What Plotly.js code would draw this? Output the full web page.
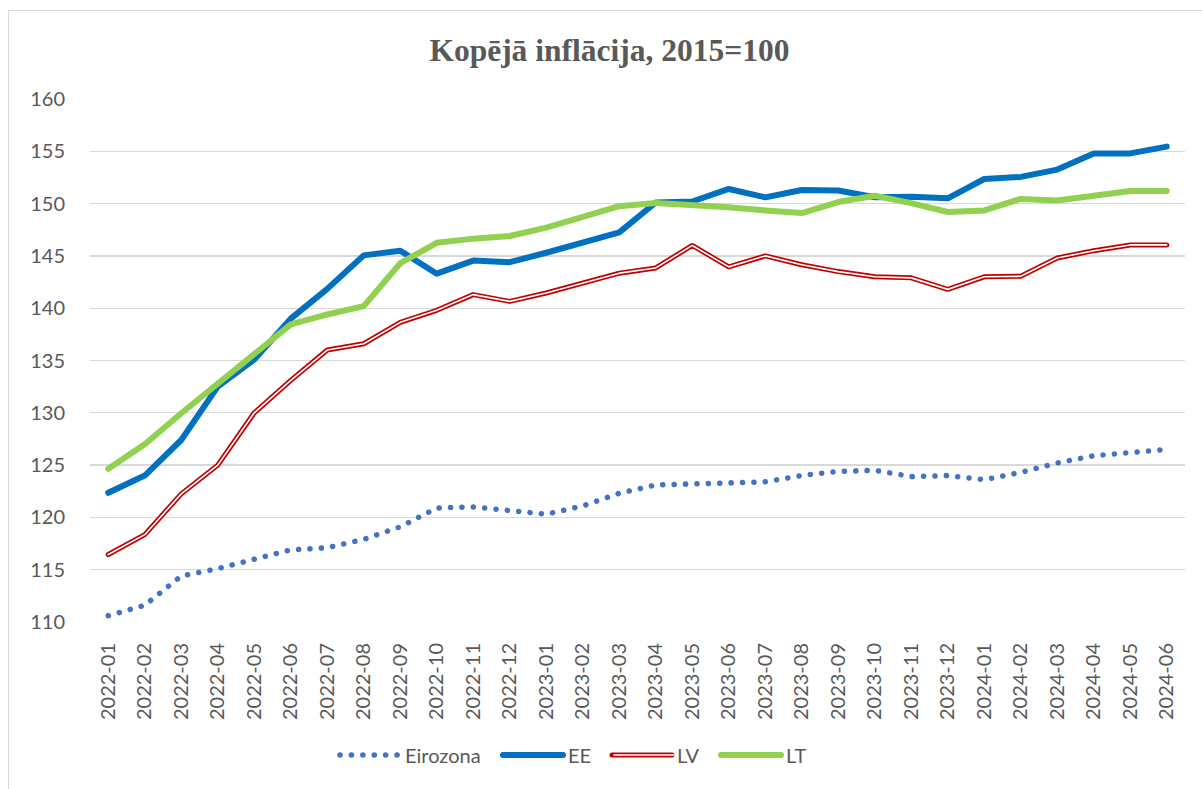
<!DOCTYPE html>
<html>
<head>
<meta charset="utf-8">
<script src="https://cdn.plot.ly/plotly-3.0.1.min.js"></script>
<style>
  html, body { margin: 0; padding: 0; background: #fff; }
  #wrap { position: absolute; left: 0; top: 0; width: 1202px; height: 789px; }
  #frame { position: absolute; left: 8px; top: 10px; width: 1200px; height: 790px;
           border-left: 1px solid #d9d9d9; border-top: 1px solid #d9d9d9; pointer-events: none; }
  #chart { position: absolute; left: 0; top: 0; width: 1202px; height: 789px; }
</style>
</head>
<body>
<div id="wrap">
  <div id="chart"></div>
  <div id="frame"></div>
</div>
<script>
const months = ["2022-01","2022-02","2022-03","2022-04","2022-05","2022-06","2022-07","2022-08","2022-09","2022-10","2022-11","2022-12",
                "2023-01","2023-02","2023-03","2023-04","2023-05","2023-06","2023-07","2023-08","2023-09","2023-10","2023-11","2023-12",
                "2024-01","2024-02","2024-03","2024-04","2024-05","2024-06"];

const eirozona = [110.6,111.6,114.4,115.1,116.0,116.9,117.1,117.9,119.1,120.9,121.0,120.6,
                  120.3,121.1,122.3,123.1,123.2,123.4,123.4,124.0,124.4,124.5,123.9,124.0,
                  123.6,124.3,125.2,125.9,126.2,126.5];
const ee = [122.35,124.0,127.4,132.5,135.1,139.0,141.85,145.05,145.5,143.3,144.55,144.4,
            145.3,146.25,147.25,150.1,150.2,151.4,150.6,151.3,151.25,150.6,150.65,150.5,
            152.35,152.55,153.25,154.8,154.8,155.45];
const lv = [116.45,118.35,122.25,125.0,130.0,133.1,136.0,136.6,138.65,139.8,141.3,140.65,
            141.45,142.4,143.35,143.85,146.0,143.95,145.0,144.15,143.5,143.0,142.9,141.8,
            143.0,143.05,144.8,145.5,146.05,146.05];
const lt = [124.65,127.0,129.95,132.8,135.5,138.45,139.4,140.2,144.3,146.25,146.65,146.9,
            147.7,148.7,149.75,150.05,149.9,149.65,149.35,149.1,150.15,150.75,150.05,149.2,
            149.35,150.45,150.3,150.7,151.2,151.2];
const yTicks = [110,115,120,125,130,135,140,145,150,155,160];

const FONT = "Lato, 'Noto Sans', 'Liberation Sans', sans-serif";
const GRAY = "#595959";

// legend geometry (px)
const LEG_LEFT = 335, ENTRY_EIRO = 164, ENTRY_OTHER = 110, ENTRY_EXTRA = 76;
const plotL = 90, plotW = 1202 - 90 - 17;
const legX = (LEG_LEFT - plotL) / plotW;
const leg2X = (LEG_LEFT + ENTRY_EIRO + ENTRY_OTHER - plotL) / plotW;
const lwEiro = ENTRY_EIRO - ENTRY_EXTRA, lwOther = ENTRY_OTHER - ENTRY_EXTRA;

const traces = [
  { x: months, y: eirozona, name: "Eirozona", type: "scatter", mode: "lines", legendwidth: lwEiro,
    line: { color: "#4472C4", width: 5.5, dash: "0.1px,11.3px" } },
  { x: months, y: ee, name: "EE", type: "scatter", mode: "lines", legendwidth: lwOther,
    line: { color: "#0070C0", width: 6 } },
  { x: months, y: lv, name: "LV", type: "scatter", mode: "lines", legendwidth: lwOther,
    line: { color: "#C00000", width: 5 } },
  { x: months, y: lv, name: "LV", type: "scatter", mode: "lines", legend: "legend2", legendwidth: lwOther,
    hoverinfo: "skip", line: { color: "#ffffff", width: 1.6 } },
  { x: months, y: lt, name: "LT", type: "scatter", mode: "lines", legendwidth: lwOther,
    line: { color: "#92D050", width: 6 } }
];

const legendBase = {
  orientation: "h", y: 1 - 755/789, yanchor: "middle", yref: "container",
  xanchor: "left", itemwidth: 60, bgcolor: "rgba(0,0,0,0)"
};

const layout = {
  width: 1202, height: 789,
  margin: { l: plotL, r: 17, t: 99.3, b: 166.7 },
  paper_bgcolor: "rgba(0,0,0,0)", plot_bgcolor: "#ffffff",
  font: { family: FONT, size: 20, color: GRAY },
  title: { text: "<b>Kopējā inflācija, 2015=100</b>",
           font: { family: "'Liberation Serif', 'Times New Roman', serif", size: 31.5, color: GRAY },
           x: 0.507, xanchor: "center", y: 1 - 50/789, yanchor: "middle", yref: "container" },
  xaxis: { type: "category", range: [-0.5, 29.5], tickangle: -90,
           showgrid: false, zeroline: false, showline: false,
           ticks: "outside", ticklen: 12, tickcolor: "rgba(0,0,0,0)",
           tickfont: { family: FONT, size: 20, color: GRAY } },
  yaxis: { range: [110, 160], tickvals: yTicks, ticktext: yTicks.map(String),
           showgrid: true, gridcolor: "#d9d9d9", gridwidth: 1.3,
           zeroline: false, showline: false,
           ticks: "outside", ticklen: 20, tickcolor: "rgba(0,0,0,0)",
           tickfont: { family: FONT, size: 20, color: GRAY } },
  showlegend: true,
  legend: Object.assign({}, legendBase, { x: legX, font: { family: FONT, size: 20, color: GRAY } }),
  legend2: Object.assign({}, legendBase, { x: leg2X, font: { family: FONT, size: 20, color: "rgba(0,0,0,0)" } })
};

Plotly.newPlot("chart", traces, layout, { staticPlot: true }).then(function () {
  document.querySelectorAll("#chart path.js-line").forEach(function (p) {
    p.style.strokeLinecap = "round";
    p.style.strokeLinejoin = "round";
  });
});
</script>
</body>
</html>
